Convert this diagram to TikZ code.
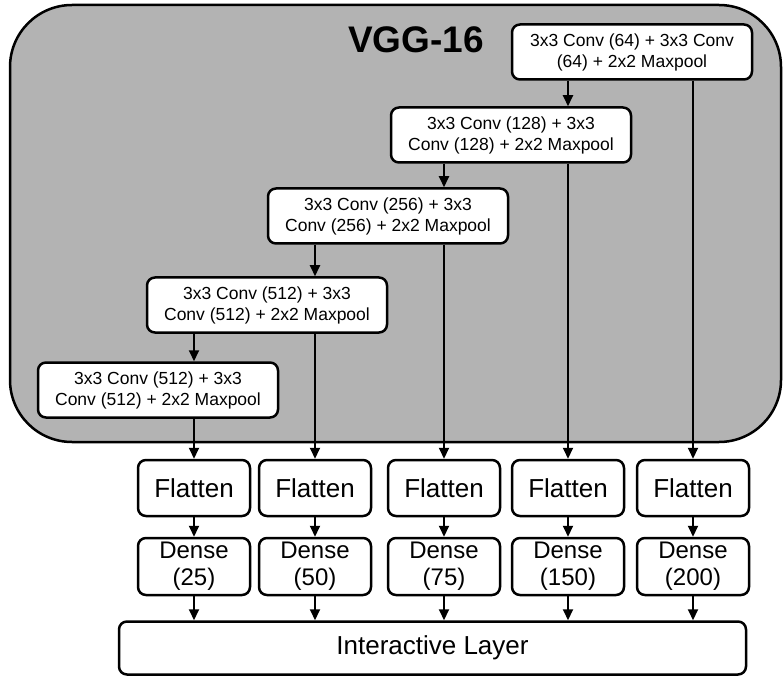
\documentclass[tikz,border=0pt]{standalone}
\usepackage{fontspec}
\setmainfont{Liberation Sans}
\usetikzlibrary{arrows.meta}
\definecolor{vggray}{RGB}{179,179,179}
\begin{document}
\begin{tikzpicture}[x=1pt,y=-1pt,
  outerbox/.style={draw, line width=2.5pt, fill=vggray, rounded corners=62pt, inner sep=0pt},
  convbox/.style={draw, line width=2.5pt, fill=white, rounded corners=8pt, minimum width=240pt, minimum height=55pt, inner sep=0pt, align=center, font=\fontsize{17.5}{21}\selectfont},
  flatbox/.style={draw, line width=2.5pt, fill=white, rounded corners=8pt, minimum width=112pt, minimum height=56pt, inner sep=0pt, font=\fontsize{26}{30}\selectfont},
  densebox/.style={draw, line width=2.5pt, fill=white, rounded corners=8pt, minimum width=112pt, minimum height=57pt, inner sep=0pt, align=center, font=\fontsize{24}{27}\selectfont},
  layerbox/.style={draw, line width=2.5pt, fill=white, rounded corners=8pt, minimum width=627pt, minimum height=53pt, inner sep=0pt, font=\fontsize{26}{30}\selectfont},
  arr/.style={line width=2pt, -{Triangle[length=11pt,width=10pt]}}
]
\useasboundingbox (0,0) rectangle (784,676);
\node[outerbox, minimum width=771pt, minimum height=437pt] (vgg) at (395.5,223.5) {};
\node[font=\bfseries\fontsize{37}{40}\selectfont] (title) at (416,40) {VGG-16};

\node[convbox] (c1) at (632,52) {3x3 Conv (64) + 3x3 Conv\\(64) + 2x2 Maxpool};
\node[convbox] (c2) at (511,135) {3x3 Conv (128) + 3x3\\Conv (128) + 2x2 Maxpool};
\node[convbox] (c3) at (388,216) {3x3 Conv (256) + 3x3\\Conv (256) + 2x2 Maxpool};
\node[convbox] (c4) at (267,305) {3x3 Conv (512) + 3x3\\Conv (512) + 2x2 Maxpool};
\node[convbox] (c5) at (158,390) {3x3 Conv (512) + 3x3\\Conv (512) + 2x2 Maxpool};

\node[flatbox] (f1) at (194,488) {Flatten};
\node[flatbox] (f2) at (315,488) {Flatten};
\node[flatbox] (f3) at (444,488) {Flatten};
\node[flatbox] (f4) at (568,488) {Flatten};
\node[flatbox] (f5) at (693,488) {Flatten};

\node[densebox] (d1) at (194,566.5) {Dense\\(25)};
\node[densebox] (d2) at (315,566.5) {Dense\\(50)};
\node[densebox] (d3) at (444,566.5) {Dense\\(75)};
\node[densebox] (d4) at (568,566.5) {Dense\\(150)};
\node[densebox] (d5) at (693,566.5) {Dense\\(200)};

\node[layerbox] (il) at (432.5,648) {Interactive Layer};

% chain of conv blocks
\draw[arr] (c1.south -| f4) -- (c2.north -| f4);
\draw[arr] (c2.south -| f3) -- (c3.north -| f3);
\draw[arr] (c3.south -| f2) -- (c4.north -| f2);
\draw[arr] (c4.south -| f1) -- (c5.north -| f1);
% taps to flatten
\draw[arr] (c1.south -| f5) -- (f5.north);
\draw[arr] (c2.south -| f4) -- (f4.north);
\draw[arr] (c3.south -| f3) -- (f3.north);
\draw[arr] (c4.south -| f2) -- (f2.north);
\draw[arr] (c5.south -| f1) -- (f1.north);
% flatten to dense to layer
\foreach \i in {1,...,5}{
  \draw[arr] (f\i.south) -- (d\i.north);
  \draw[arr] (d\i.south) -- (il.north -| d\i);
}
\end{tikzpicture}
\end{document}
